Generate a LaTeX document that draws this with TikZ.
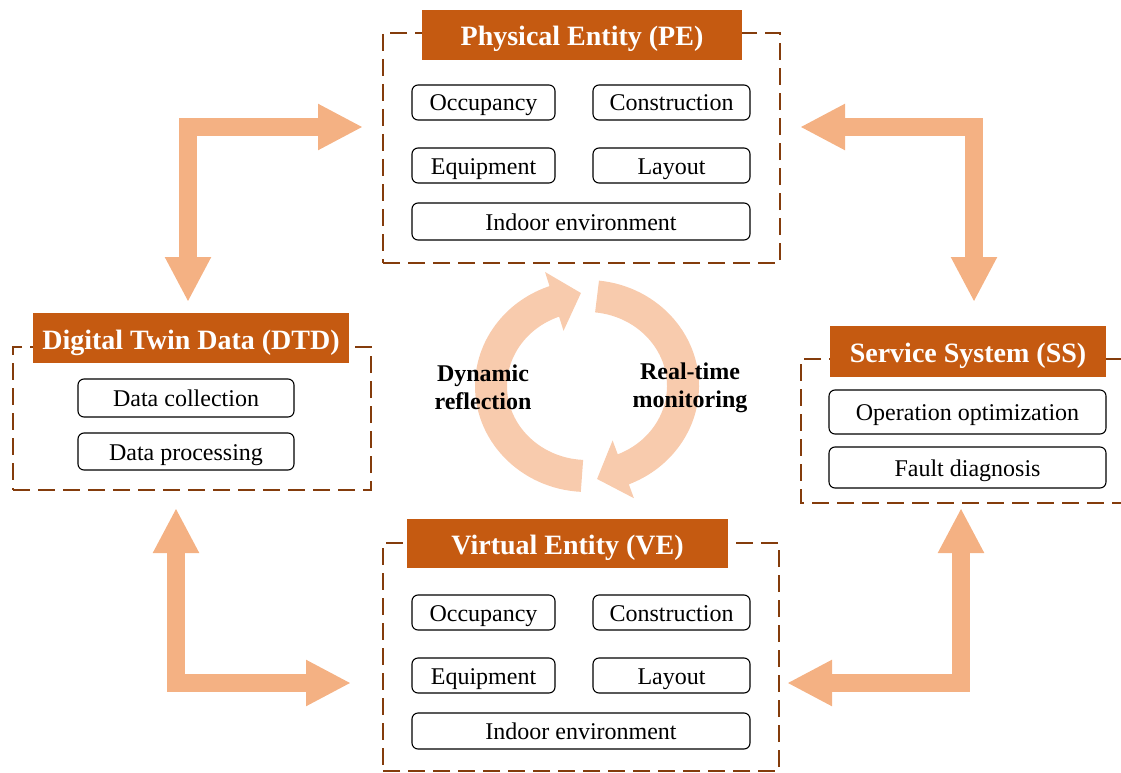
\documentclass[tikz,border=0pt]{standalone}
\usepackage{fontspec}
\setmainfont{Liberation Serif}
\usetikzlibrary{arrows.meta}
\definecolor{hdr}{HTML}{C55A11}
\definecolor{dashc}{HTML}{843C0C}
\definecolor{arr}{HTML}{F4B183}
\definecolor{circc}{HTML}{F8CBAD}
\begin{document}
\begin{tikzpicture}[x=1pt,y=-1pt,
  frame/.style={draw=dashc, line width=2.2pt, dash pattern=on 17pt off 8pt, inner sep=0pt},
  header/.style={fill=hdr, text=white, inner sep=0pt, text height=22pt, text depth=0pt,
    font=\fontsize{28}{32}\selectfont\bfseries},
  item/.style={draw=black, line width=1.1pt, rounded corners=6pt, fill=white, inner sep=0pt,
    text height=19.5pt, text depth=2.5pt, font=\fontsize{24}{28}\selectfont},
  bigarrow/.style={draw=arr, line width=18pt, line join=miter,
    {Triangle[length=45pt,width=43pt]}-{Triangle[length=45pt,width=43pt]}},
  circband/.style={draw=circc, line width=32pt},
  circarrow/.style={draw=circc, line width=32pt, -{Triangle[length=28pt,width=60pt]}},
  midlabel/.style={align=center, font=\fontsize{24}{28}\selectfont\bfseries}
]
\useasboundingbox (0,0) rectangle (1121,773);

% ---------- Physical Entity ----------
\node[frame, minimum width=397pt, minimum height=230pt] (pe) at (581.5,148) {};
\node[header, minimum width=320pt, minimum height=50pt] (peh) at (582,35) {Physical Entity (PE)};
\node[item, minimum width=143pt, minimum height=35pt] (peocc) at (483.5,102.5) {Occupancy};
\node[item, minimum width=157pt, minimum height=35pt] (pecon) at (671.5,102.5) {Construction};
\node[item, minimum width=143pt, minimum height=35pt] (peequ) at (483.5,165.5) {Equipment};
\node[item, minimum width=157pt, minimum height=35pt] (pelay) at (671.5,165.5) {Layout};
\node[item, minimum width=338pt, minimum height=37pt] (peind) at (581,221.5) {Indoor environment};

% ---------- Virtual Entity ----------
\node[frame, minimum width=396pt, minimum height=228pt] (ve) at (581,657) {};
\node[header, minimum width=321pt, minimum height=49pt] (veh) at (567.5,543.5) {Virtual Entity (VE)};
\node[item, minimum width=143pt, minimum height=35pt] (veocc) at (483.5,612.5) {Occupancy};
\node[item, minimum width=157pt, minimum height=35pt] (vecon) at (671.5,612.5) {Construction};
\node[item, minimum width=143pt, minimum height=35pt] (veequ) at (483.5,675.5) {Equipment};
\node[item, minimum width=157pt, minimum height=35pt] (velay) at (671.5,675.5) {Layout};
\node[item, minimum width=338pt, minimum height=36pt] (veind) at (581,731) {Indoor environment};

% ---------- Digital Twin Data ----------
\node[frame, minimum width=358pt, minimum height=143pt] (dtd) at (192,418.5) {};
\node[header, minimum width=316pt, minimum height=50pt] (dtdh) at (191,338) {Digital Twin Data (DTD)};
\node[item, minimum width=216pt, minimum height=38pt] (dcol) at (186,398) {Data collection};
\node[item, minimum width=216pt, minimum height=37pt] (dpro) at (186,451.5) {Data processing};

% ---------- Service System ----------
\draw[draw=dashc, line width=2.2pt, dash pattern=on 17pt off 8pt]
  (1121,359) -- (801,359) -- (801,503) -- (1121,503);
\node[header, minimum width=276pt, minimum height=51pt] (ssh) at (968,351.5) {Service System (SS)};
\node[item, minimum width=277pt, minimum height=44pt] (sopt) at (967.5,412) {Operation optimization};
\node[item, minimum width=277pt, minimum height=41pt] (sfau) at (967.5,467.5) {Fault diagnosis};

% ---------- L-shaped double arrows ----------
\coordinate (a1a) at (363,127); \coordinate (a1c) at (188,127); \coordinate (a1b) at (188,302);
\coordinate (a2a) at (800,127); \coordinate (a2c) at (974,127); \coordinate (a2b) at (974,302);
\coordinate (a3a) at (176,508); \coordinate (a3c) at (176,683); \coordinate (a3b) at (351,683);
\coordinate (a4a) at (961,508); \coordinate (a4c) at (961,683); \coordinate (a4b) at (787,683);
\draw[bigarrow] (a1a) -- (a1c) -- (a1b);
\draw[bigarrow] (a2a) -- (a2c) -- (a2b);
\draw[bigarrow] (a3a) -- (a3c) -- (a3b);
\draw[bigarrow] (a4a) -- (a4c) -- (a4b);

% ---------- Circular arrows ----------
\coordinate (cc) at (587,386);
\coordinate (tipL) at (581,293);
\coordinate (tipR) at (597,479);
\draw[circband] (cc) ++(93:96 and 90) arc[start angle=93, end angle=251, x radius=96, y radius=90];
\draw[circarrow] (cc) ++(250:96 and 90) coordinate (baseL) -- (tipL);
\draw[circband] (cc) ++(276:96 and 90) arc[start angle=276, end angle=428, x radius=96, y radius=90];
\draw[circarrow] (cc) ++(427:96 and 90) coordinate (baseR) -- (tipR);

\node[midlabel] (dyn) at (483,387) {Dynamic\\reflection};
\node[midlabel] (rtm) at (690,388) {Real-time\\monitoring};
\end{tikzpicture}
\end{document}
